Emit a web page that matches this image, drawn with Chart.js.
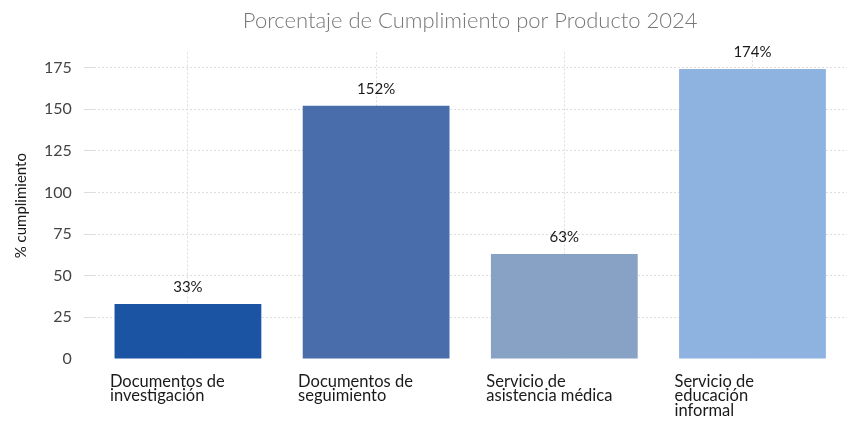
<!DOCTYPE html>
<html lang="es">
<head>
<meta charset="utf-8">
<title>Porcentaje de Cumplimiento por Producto 2024</title>
<script src="https://cdn.jsdelivr.net/npm/chart.js@4"></script>
<style>
  html, body { margin: 0; padding: 0; background: #fff; }
</style>
</head>
<body>
<canvas id="myChart" width="847" height="421"></canvas>
<script>
"use strict";

// Productos y porcentaje de cumplimiento
const productos = [
  ['Documentos de', 'investigación'],
  ['Documentos de', 'seguimiento'],
  ['Servicio de', 'asistencia médica'],
  ['Servicio de', 'educación', 'informal']
];
const cumplimiento = [33, 152, 63, 174];
const colores = ['#1c54a4', '#486daa', '#88a2c6', '#8fb3e0'];
const yTicks = [0, 25, 50, 75, 100, 125, 150, 175];

const FONT = "Lato, 'Open Sans', sans-serif";

// Etiqueta de porcentaje encima de cada barra
const barLabels = {
  id: 'barLabels',
  afterDraw(chart) {
    const ctx = chart.ctx;
    const meta = chart.getDatasetMeta(0);
    ctx.save();
    ctx.font = '15px ' + FONT;
    ctx.fillStyle = '#1a1a1a';
    ctx.textAlign = 'center';
    ctx.textBaseline = 'bottom';
    meta.data.forEach((bar, i) => {
      ctx.fillText(cumplimiento[i] + '%', bar.x, bar.y - 9);
    });
    ctx.restore();
  }
};

const ctx = document.querySelector('#myChart').getContext('2d');

const data = {
  labels: productos,
  datasets: [
    {
      data: cumplimiento,
      backgroundColor: colores,
      borderWidth: 0,
      barPercentage: 0.78,
      categoryPercentage: 1.0
    }
  ]
};

const config = {
  type: 'bar',
  data: data,
  options: {
    responsive: false,
    animation: false,
    layout: {
      padding: { left: 4, right: 0, top: 0, bottom: 0 }
    },
    plugins: {
      legend: { display: false },
      tooltip: { enabled: false },
      title: {
        display: true,
        fullSize: false,
        text: 'Porcentaje de Cumplimiento por Producto 2024',
        color: '#777777',
        font: { family: FONT, size: 22, weight: '300' },
        padding: { top: 8, bottom: 18 }
      }
    },
    scales: {
      x: {
        z: 1,
        afterFit: (scale) => { scale.height = 62; },
        grid: {
          offset: false,
          drawTicks: false,
          color: '#dddddd',
          lineWidth: 1
        },
        border: { display: false, dash: [2, 2] },
        ticks: {
          align: 'start',
          labelOffset: -78,
          padding: 15,
          maxRotation: 0,
          minRotation: 0,
          autoSkip: false,
          color: '#1a1a1a',
          font: { family: FONT, size: 16.5, lineHeight: 0.88 }
        }
      },
      y: {
        z: 1,
        min: 0,
        max: 184,
        afterBuildTicks: (scale) => {
          scale.ticks = yTicks.map(v => ({ value: v }));
        },
        grid: {
          color: (c) => c.tick && c.tick.value === 0 ? 'rgba(0,0,0,0)' : '#dddddd',
          tickLength: 10,
          lineWidth: 1
        },
        border: { display: false, dash: [2, 2] },
        ticks: {
          padding: 12,
          color: '#444444',
          font: { family: FONT, size: 16 }
        },
        title: {
          display: true,
          text: '% cumplimiento',
          color: '#1a1a1a',
          font: { family: FONT, size: 15 },
          padding: { top: 8, bottom: 2 }
        }
      }
    }
  },
  plugins: [barLabels]
};

const myChart = new Chart(ctx, config);
</script>
</body>
</html>
